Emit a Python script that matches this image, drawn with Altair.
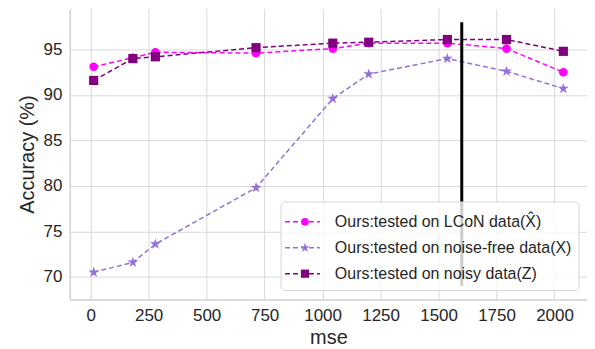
import altair as alt
import pandas as pd

# ---- data ----
mse = [13, 182, 279, 713, 1044, 1199, 1538, 1793, 2038]
series_names = [
    "Ours:tested on LCoN data(X\u0302)",
    "Ours:tested on noise-free data(X)",
    "Ours:tested on noisy data(Z)",
]
acc_lcon = [93.1, 94.1, 94.7, 94.6, 95.1, 95.7, 95.7, 95.1, 92.5]
acc_clean = [70.5, 71.6, 73.6, 79.8, 89.6, 92.3, 94.0, 92.6, 90.7]
acc_noisy = [91.6, 94.0, 94.2, 95.2, 95.7, 95.8, 96.1, 96.1, 94.8]
vline_x = [1600]
vline_y = [69.0, 98.0]

colors = ["#FF00FF", "#9370DB", "#800080"]
STAR = ("M0,-1L0.225,-0.309L0.951,-0.309L0.363,0.118L0.588,0.809L0,0.382"
        "L-0.588,0.809L-0.363,0.118L-0.951,-0.309L-0.225,-0.309Z")
shapes = ["circle", STAR, "square"]
sizes = [75, 130, 85]

FONT = "Liberation Sans"
TXT = "#262626"

rows = []
for name, vals in zip(series_names, [acc_lcon, acc_clean, acc_noisy]):
    for x, y in zip(mse, vals):
        rows.append({"mse": x, "acc": y, "series": name})
df = pd.DataFrame(rows)

xscale = alt.Scale(domain=[-90, 2140], nice=False, zero=False)
yscale = alt.Scale(domain=[67.5, 99.5], nice=False, zero=False)

xaxis = alt.Axis(values=list(range(0, 2001, 250)), title="mse", grid=True, format="d")
yaxis = alt.Axis(values=[70, 75, 80, 85, 90, 95], title="Accuracy (%)", grid=True, format="d")

layers = []
for i, name in enumerate(series_names):
    d = df[df.series == name]
    line = alt.Chart(d).mark_line(
        color=colors[i], strokeDash=[5, 3], strokeWidth=1.5
    ).encode(
        x=alt.X("mse:Q", scale=xscale, axis=xaxis),
        y=alt.Y("acc:Q", scale=yscale, axis=yaxis),
    )
    pts = alt.Chart(d).mark_point(
        shape=shapes[i], filled=True, color=colors[i], size=sizes[i], opacity=1
    ).encode(x=alt.X("mse:Q", scale=xscale), y=alt.Y("acc:Q", scale=yscale))
    layers += [line, pts]

vl = alt.Chart(pd.DataFrame({"x": vline_x, "y": [vline_y[0]], "y2": [vline_y[1]]})).mark_rule(
    color="black", strokeWidth=3
).encode(x=alt.X("x:Q", scale=xscale), y=alt.Y("y:Q", scale=yscale), y2="y2:Q")

# ---- custom legend (pixel placement inside plot area) ----
box = alt.Chart(pd.DataFrame({"a": [0]})).mark_rect(
    fill="white", fillOpacity=0.8, stroke="#d5d5d5", strokeWidth=1, cornerRadius=4
).encode(x=alt.value(212), x2=alt.value(511), y=alt.value(194), y2=alt.value(283))

leg_y = [214, 240, 266]
leg = pd.DataFrame({"series": series_names, "ly": leg_y, "c": colors})
leg_layers = [box]
for i, name in enumerate(series_names):
    one = leg.iloc[[i]]
    leg_layers.append(alt.Chart(one).mark_rule(color=colors[i], strokeDash=[5, 3], strokeWidth=1.5).encode(
        x=alt.value(216), x2=alt.value(251), y=alt.value(leg_y[i])))
    leg_layers.append(alt.Chart(one).mark_point(shape=shapes[i], filled=True, color=colors[i],
                                                size=sizes[i] * 0.8, opacity=1).encode(
        x=alt.value(236), y=alt.value(leg_y[i])))
    leg_layers.append(alt.Chart(one).mark_text(align="left", baseline="middle", font=FONT,
                                               fontSize=16, color=TXT).encode(
        x=alt.value(266), y=alt.value(leg_y[i]), text="series:N"))

chart = alt.layer(*layers, vl, *leg_layers).properties(
    width=519, height=292, padding={"left": 9, "top": 0, "right": 0, "bottom": 0}
).configure_view(stroke=None).configure_axis(
    labelFont=FONT, titleFont=FONT, labelFontSize=17, titleFontSize=20,
    labelColor=TXT, titleColor=TXT, titleFontWeight="normal",
    gridColor="#d9d9d9", gridWidth=1, domainColor="#d0d0d0", domainWidth=1.5,
    ticks=False, labelPadding=8,
).configure_axisY(titlePadding=6).configure_axisX(titlePadding=4)

chart.save("out.html", embed_options={"renderer": "svg", "actions": False})
